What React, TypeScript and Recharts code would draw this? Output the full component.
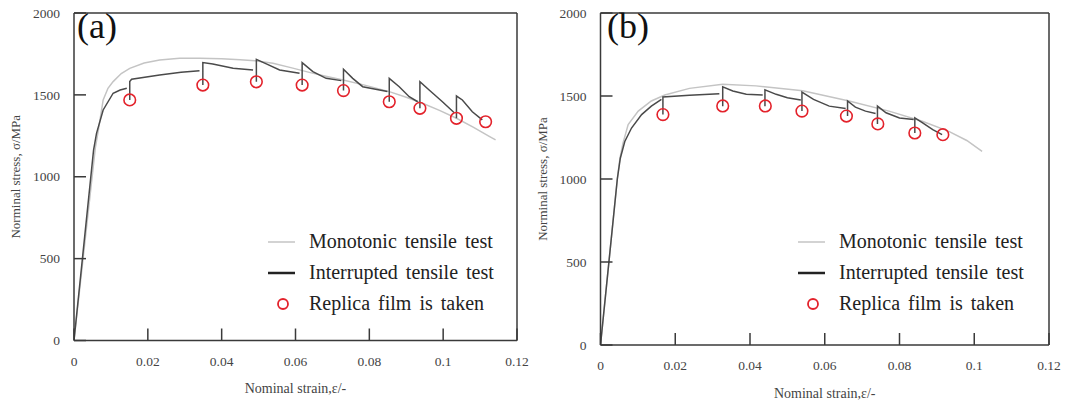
import { ComposedChart, Line, Scatter, XAxis, YAxis, ReferenceLine } from "recharts";

type Pt = [number, number];

const SERIF = '"Liberation Serif", "Times New Roman", serif';

const strainTicks = [0, 0.02, 0.04, 0.06, 0.08, 0.1, 0.12];
const stressTicks = [0, 500, 1000, 1500, 2000];

const legendLabels = ["Monotonic tensile test", "Interrupted tensile test", "Replica film is taken"];

// (a) strain, stress pairs
const monotonicA: Pt[] = [
  [0, 0], [0.0058, 1180], [0.0066, 1285], [0.0079, 1469], [0.0092, 1540],
  [0.0106, 1581], [0.0128, 1630], [0.0151, 1662], [0.019, 1695], [0.0232, 1713],
  [0.0286, 1723], [0.034, 1724], [0.04, 1720], [0.045, 1714], [0.049, 1708],
  [0.0539, 1693], [0.059, 1665], [0.064, 1636], [0.0685, 1612], [0.0726, 1592],
  [0.079, 1558], [0.0854, 1520], [0.09, 1485], [0.0944, 1449], [0.099, 1405],
  [0.1036, 1357], [0.108, 1305], [0.1126, 1245], [0.1142, 1225],
];

const interruptedA: Pt[][] = [
  [[0, 0], [0.0053, 1163], [0.0061, 1265], [0.0079, 1408], [0.0106, 1510], [0.0125, 1530], [0.0143, 1540]],
  [[0.0151, 1469], [0.0151, 1581], [0.0156, 1595], [0.0232, 1621], [0.029, 1638], [0.034, 1648]],
  [[0.0349, 1560], [0.0349, 1697], [0.0376, 1689], [0.0431, 1662], [0.0485, 1652]],
  [[0.0494, 1580], [0.0494, 1717], [0.0521, 1689], [0.0557, 1652], [0.0611, 1632]],
  [[0.0618, 1560], [0.0618, 1697], [0.0647, 1642], [0.0683, 1601], [0.0724, 1587]],
  [[0.073, 1526], [0.073, 1656], [0.0755, 1601], [0.0782, 1550], [0.0849, 1520]],
  [[0.0854, 1458], [0.0854, 1601], [0.0881, 1550], [0.0908, 1489], [0.0931, 1458]],
  [[0.0937, 1418], [0.0937, 1581], [0.0962, 1530], [0.0998, 1458], [0.103, 1391]],
  [[0.1036, 1357], [0.1036, 1493], [0.1052, 1469], [0.1079, 1397], [0.1106, 1347]],
];

const replicaA: Pt[] = [
  [0.0151, 1469], [0.0349, 1560], [0.0494, 1580], [0.0618, 1560], [0.073, 1526],
  [0.0854, 1458], [0.0937, 1418], [0.1036, 1357], [0.1115, 1336],
];

// (b)
const monotonicB: Pt[] = [
  [0, 0], [0.0045, 1000], [0.0052, 1125], [0.006, 1215], [0.0074, 1328], [0.0101, 1409],
  [0.0136, 1470], [0.0172, 1506], [0.0238, 1546], [0.0327, 1571], [0.0416, 1561],
  [0.0541, 1531], [0.0665, 1470], [0.0772, 1409], [0.0861, 1348], [0.0932, 1287],
  [0.098, 1232], [0.1021, 1166],
];

const interruptedB: Pt[][] = [
  [[0, 0], [0.0045, 1000], [0.0053, 1125], [0.0065, 1226], [0.0083, 1307], [0.011, 1388], [0.0136, 1439], [0.0163, 1480]],
  [[0.0167, 1388], [0.0167, 1494], [0.0238, 1504], [0.0318, 1514]],
  [[0.0327, 1439], [0.0327, 1555], [0.0354, 1530], [0.039, 1510], [0.0434, 1506]],
  [[0.044, 1439], [0.044, 1537], [0.047, 1510], [0.05, 1490], [0.0536, 1476]],
  [[0.0539, 1409], [0.0539, 1524], [0.057, 1480], [0.0612, 1439], [0.0656, 1425]],
  [[0.0661, 1379], [0.0661, 1470], [0.0682, 1433], [0.0709, 1409], [0.0736, 1395]],
  [[0.0741, 1332], [0.0741, 1439], [0.0764, 1399], [0.08, 1368], [0.0838, 1358]],
  [[0.0841, 1277], [0.0841, 1368], [0.0862, 1338], [0.0889, 1297], [0.0914, 1267]],
];

const replicaB: Pt[] = [
  [0.0167, 1388], [0.0327, 1440], [0.0441, 1440], [0.0539, 1409], [0.0658, 1379],
  [0.0742, 1332], [0.0841, 1277], [0.0916, 1267],
];

const toRows = (pts: Pt[]) => pts.map(([e, s]) => ({ e, s: s as number | null }));
// null point between segments so the line breaks at each interruption
const joinSegments = (segs: Pt[][]) =>
  segs.flatMap((seg, i) => [...(i ? [{ e: seg[0][0], s: null as number | null }] : []), ...toRows(seg)]);

const AXIS = "#3a3a3a";
const TICK_LEN = 12;
const Y_GAP = 14;
const X_GAP = 15.5;

// inward tick marks: the library only draws them outward, so draw line + label here
const YTick = (props: any) => {
  const { x, y, payload } = props;
  return (
    <g>
      <line x1={x + Y_GAP} x2={x + Y_GAP + TICK_LEN} y1={y} y2={y} stroke={AXIS} strokeWidth={1.5} />
      <text x={x} y={y} dy="0.35em" textAnchor="end" fill="#444" fontSize={13.5} fontFamily={SERIF}>
        {payload.value}
      </text>
    </g>
  );
};

const XTick = (props: any) => {
  const { x, y, payload } = props;
  return (
    <g>
      <line x1={x} x2={x} y1={y - X_GAP} y2={y - X_GAP - TICK_LEN} stroke={AXIS} strokeWidth={1.5} />
      <text x={x} y={y} dy="0.71em" textAnchor="middle" fill="#444" fontSize={13.5} fontFamily={SERIF}>
        {payload.value}
      </text>
    </g>
  );
};

const ReplicaCircle = (props: any) => (
  <circle cx={props.cx} cy={props.cy} r={5.8} fill="none" stroke="#e3222b" strokeWidth={1.6} />
);

function Legend() {
  return (
    <div style={{ position: "absolute", left: 262, top: 226, fontFamily: SERIF, fontSize: 20, color: "#222" }}>
      {legendLabels.map((text, i) => (
        <div key={text} style={{ display: "flex", alignItems: "center", height: 31 }}>
          <svg width={47} height={20} style={{ flex: "none" }}>
            {i === 0 && <line x1={6} x2={33} y1={10} y2={10} stroke="#c4c4c4" strokeWidth={1.5} />}
            {i === 1 && <line x1={6} x2={33} y1={10} y2={10} stroke="#222" strokeWidth={2.5} />}
            {i === 2 && <circle cx={21} cy={10} r={5} fill="none" stroke="#e3222b" strokeWidth={1.8} />}
          </svg>
          <span style={{ wordSpacing: 3 }}>{text}</span>
        </div>
      ))}
    </div>
  );
}

interface PanelProps {
  tag: string;
  left: number;
  width: number;
  margin: { top: number; right: number; bottom: number; left: number };
  monotonic: Pt[];
  interrupted: Pt[][];
  replica: Pt[];
}

function Panel({ tag, left, width, margin, monotonic, interrupted, replica }: PanelProps) {
  return (
    <div style={{ position: "absolute", left, top: 0, width, height: 406 }}>
      <ComposedChart width={width} height={406} margin={margin}>
        <XAxis
          dataKey="e"
          type="number"
          domain={[0, 0.12]}
          ticks={strainTicks}
          interval={0}
          allowDataOverflow
          height={30}
          axisLine={{ stroke: AXIS, strokeWidth: 1.5 }}
          tickLine={false}
          tickSize={0}
          tickMargin={X_GAP}
          tick={XTick}
          label={{ value: "Nominal strain,ε/-", position: "bottom", offset: 13, fill: "#444", fontSize: 14, fontFamily: SERIF }}
        />
        <YAxis
          type="number"
          domain={[0, 2000]}
          ticks={stressTicks}
          interval={0}
          allowDataOverflow
          width={60}
          axisLine={{ stroke: AXIS, strokeWidth: 1.5 }}
          tickLine={false}
          tickSize={0}
          tickMargin={Y_GAP}
          tick={YTick}
          label={{
            value: "Norminal stress, σ/MPa",
            angle: -90,
            position: "insideLeft",
            offset: 1.5,
            fill: "#444",
            fontSize: 13,
            fontFamily: SERIF,
            style: { textAnchor: "middle" },
          }}
        />
        <ReferenceLine y={2000} stroke={AXIS} strokeWidth={1.5} />
        <ReferenceLine x={0.12} stroke={AXIS} strokeWidth={1.5} />
        <Line
          data={toRows(monotonic)}
          dataKey="s"
          type="linear"
          stroke="#c4c4c4"
          strokeWidth={1.5}
          dot={false}
          activeDot={false}
          isAnimationActive={false}
        />
        <Line
          data={joinSegments(interrupted)}
          dataKey="s"
          type="linear"
          stroke="#4a4a4a"
          strokeWidth={1.5}
          dot={false}
          activeDot={false}
          isAnimationActive={false}
        />
        <Scatter data={toRows(replica)} dataKey="s" shape={ReplicaCircle} isAnimationActive={false} />
      </ComposedChart>
      <div style={{ position: "absolute", left: 77, top: 6, fontFamily: SERIF, fontSize: 36, lineHeight: "40px", color: "#111" }}>
        {tag}
      </div>
      <Legend />
    </div>
  );
}

export default function App() {
  return (
    <div style={{ position: "absolute", left: 0, top: 0, width: 1069, height: 406, background: "#fff" }}>
      <Panel
        tag="(a)"
        left={0}
        width={540}
        margin={{ top: 13, right: 23, bottom: 35.5, left: 14 }}
        monotonic={monotonicA}
        interrupted={interruptedA}
        replica={replicaA}
      />
      <Panel
        tag="(b)"
        left={530}
        width={539}
        margin={{ top: 13, right: 20, bottom: 31, left: 10.5 }}
        monotonic={monotonicB}
        interrupted={interruptedB}
        replica={replicaB}
      />
    </div>
  );
}
